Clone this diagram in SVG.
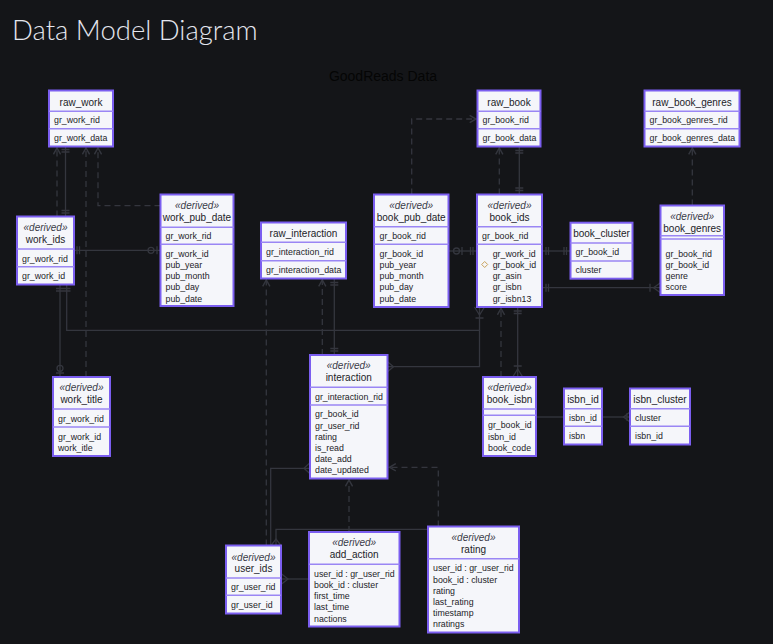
<svg xmlns="http://www.w3.org/2000/svg" width="773" height="644" viewBox="0 0 773 644">
<style>
.bg{fill:#141518}
.box{fill:#f5f6fa;stroke:#7b5ef0;stroke-width:2}
.div{stroke:#9a86f4;stroke-width:1.5}
.t{font-family:"Liberation Sans",Arial,sans-serif;font-size:10px;fill:#1c1c28;text-anchor:middle}
.st{font-family:"Liberation Sans",Arial,sans-serif;font-size:10px;font-style:italic;fill:#3a3a48;text-anchor:middle}
.a{font-family:"Liberation Sans",Arial,sans-serif;font-size:8.8px;fill:#1c1c28}
.c{fill:none;stroke:#34363e;stroke-width:1.3}
.d{fill:none;stroke:#34363e;stroke-width:1.3;stroke-dasharray:6 4;marker-end:url(#arr)}
.m{fill:none;stroke:#34363e;stroke-width:1.3}
</style>
<defs>
<marker id="arr" viewBox="0 0 10 10" refX="8" refY="5" markerWidth="9" markerHeight="9" markerUnits="userSpaceOnUse" orient="auto">
<path d="M1,1 L8,5 L1,9" fill="none" stroke="#34363e" stroke-width="1.6" stroke-dasharray="none"/>
</marker>
</defs>
<rect class="bg" x="0" y="0" width="773" height="644"/>
<text x="12" y="40" style="font-family:Lato,'Open Sans',sans-serif;font-weight:300;font-size:27.5px;fill:#e4e6ee">Data Model Diagram</text>
<text x="383" y="81" style="font-family:'Liberation Sans',Arial,sans-serif;font-size:14px;fill:#050505;text-anchor:middle">GoodReads Data</text>

<g id="connectors">
<path class="c" d="M65.5,146.5 V216.5"/>
<path class="m" d="M61.5,149.5 H69.5 M61.5,152 H69.5 M61.5,210.5 H69.5 M61.5,213 H69.5"/>
<path class="c" d="M74,250.3 H160.5"/>
<path class="m" d="M77,246.3 V254.3 M79.5,246.3 V254.3 M157,246.3 V254.3"/>
<circle class="m" cx="151" cy="250.3" r="3" fill="#141518"/>
<path class="c" d="M60,284.5 V377"/>
<path class="m" d="M56,288.5 H70.5 M56,291 H70.5 M56,373 H64"/>
<circle class="m" cx="60" cy="368.3" r="3" fill="#141518"/>
<path class="c" d="M66.7,284.5 V330.3 H479.5 V307"/>
<path class="m" d="M474.5,307 L479.5,315 L484.5,307 M475.5,318 H483.5"/>
<path class="c" d="M387.5,366.7 H479.5 V330.3"/>
<path class="m" d="M387.5,361.7 L393.5,366.7 L387.5,371.7"/>
<path class="c" d="M334.3,278.5 V355"/>
<path class="m" d="M330.3,282.5 H338.3 M330.3,285 H338.3 M330.3,348.5 H338.3 M330.3,351 H338.3"/>
<path class="c" d="M448.5,251 H477"/>
<path class="m" d="M462,247 V255 M470.5,247 V255 M473,247 V255"/>
<circle class="m" cx="456.5" cy="251" r="3" fill="#141518"/>
<path class="c" d="M542,251 H570.5"/>
<path class="m" d="M546,247 V255 M548.5,247 V255 M564,247 V255 M566.5,247 V255"/>
<path class="c" d="M542,287.7 H660.5"/>
<path class="m" d="M546,283.7 V291.7 M548.5,283.7 V291.7 M650,283.7 V291.7 M660.5,282.7 L653.5,287.7 L660.5,292.7"/>
<path class="c" d="M519.3,146.5 V194.5"/>
<path class="m" d="M515.3,150.5 H523.3 M515.3,153 H523.3 M515.3,188 H523.3 M515.3,190.5 H523.3"/>
<path class="c" d="M517.7,307 V377"/>
<path class="m" d="M513.7,311 H521.7 M513.7,313.5 H521.7 M513.7,366 H521.7 M512.7,377 L517.7,369 L522.7,377"/>
<path class="c" d="M536,417 H564"/>
<path class="c" d="M602,417 H630"/>
<path class="m" d="M627,413 V421 M630,412 L623.5,417 L630,422"/>
<path class="c" d="M310,468.3 H270.7 V545.5"/>
<path class="m" d="M310,462.8 L304,468.3 L310,473.8"/>
<path class="c" d="M276,545.5 V529.3 H428"/>
<path class="m" d="M271,545.5 L276,539 L281,545.5"/>
<path class="c" d="M281,579 H309"/>
<path class="m" d="M281,573.5 L288,579 L281,584.5"/>
<path class="d" d="M57,216.5 V148"/>
<path class="d" d="M86,377 V148"/>
<path class="d" d="M160.5,205.7 H98 V148"/>
<path class="d" d="M266.3,545.5 V280"/>
<path class="d" d="M322.3,355 V280"/>
<path class="d" d="M411.7,194.5 V119 H476"/>
<path class="d" d="M499.3,194.5 V148"/>
<path class="d" d="M501,377 V308.5"/>
<path class="d" d="M692.3,205.5 V148"/>
<path class="d" d="M349,532 V480"/>
<path class="d" d="M438.3,526.5 V467.3 H389.5"/>
</g>

<g id="raw_work">
<rect class="box" x="49" y="90.5" width="64" height="56"/>
<path class="div" d="M49,111.3 H113 M49,128.7 H113"/>
<text class="t" x="81" y="105.5">raw_work</text>
<text class="a" x="54" y="123">gr_work_rid</text>
<text class="a" x="54" y="141">gr_work_data</text>
</g>

<g id="work_ids">
<rect class="box" x="17" y="216.5" width="57" height="68"/>
<path class="div" d="M17,249 H74 M17,266.7 H74"/>
<text class="st" x="45.5" y="231">«derived»</text>
<text class="t" x="45.5" y="242.7">work_ids</text>
<text class="a" x="22" y="262">gr_work_rid</text>
<text class="a" x="22" y="279">gr_work_id</text>
</g>

<g id="work_pub_date">
<rect class="box" x="160.5" y="194.5" width="73" height="111.5"/>
<path class="div" d="M160.5,227.3 H233.5 M160.5,244.3 H233.5"/>
<text class="st" x="197" y="209">«derived»</text>
<text class="t" x="197" y="221">work_pub_date</text>
<text class="a" x="165.5" y="238.7">gr_work_rid</text>
<text class="a" x="165.5" y="256.7">gr_work_id</text>
<text class="a" x="165.5" y="268">pub_year</text>
<text class="a" x="165.5" y="279.3">pub_month</text>
<text class="a" x="165.5" y="290.3">pub_day</text>
<text class="a" x="165.5" y="301.5">pub_date</text>
</g>

<g id="raw_interaction">
<rect class="box" x="261" y="222.5" width="85" height="56"/>
<path class="div" d="M261,242.3 H346 M261,260.7 H346"/>
<text class="t" x="303.5" y="236.7">raw_interaction</text>
<text class="a" x="266" y="254.7">gr_interaction_rid</text>
<text class="a" x="266" y="273">gr_interaction_data</text>
</g>

<g id="raw_book">
<rect class="box" x="477.5" y="90.5" width="63" height="56"/>
<path class="div" d="M477.5,111.3 H540.5 M477.5,128.7 H540.5"/>
<text class="t" x="509" y="105.5">raw_book</text>
<text class="a" x="482.5" y="123">gr_book_rid</text>
<text class="a" x="482.5" y="141">gr_book_data</text>
</g>

<g id="book_pub_date">
<rect class="box" x="374" y="194.5" width="74.5" height="112.5"/>
<path class="div" d="M374,226.7 H448.5 M374,244.3 H448.5"/>
<text class="st" x="411.2" y="209.3">«derived»</text>
<text class="t" x="411.2" y="221">book_pub_date</text>
<text class="a" x="379.5" y="238.7">gr_book_rid</text>
<text class="a" x="379.5" y="256.7">gr_book_id</text>
<text class="a" x="379.5" y="268">pub_year</text>
<text class="a" x="379.5" y="279.3">pub_month</text>
<text class="a" x="379.5" y="290.3">pub_day</text>
<text class="a" x="379.5" y="301.5">pub_date</text>
</g>

<g id="book_ids">
<rect class="box" x="477" y="194.5" width="65" height="112.5"/>
<path class="div" d="M477,226.7 H542 M477,244.3 H542"/>
<text class="st" x="509.5" y="209.3">«derived»</text>
<text class="t" x="509.5" y="221">book_ids</text>
<text class="a" x="482" y="238.7">gr_book_rid</text>
<text class="a" x="492.7" y="256.7">gr_work_id</text>
<path d="M484.7,261.5 L487.7,264.5 L484.7,267.5 L481.7,264.5 Z" fill="none" stroke="#c9a25a" stroke-width="1"/>
<text class="a" x="492.7" y="267.7">gr_book_id</text>
<text class="a" x="492.7" y="279">gr_asin</text>
<text class="a" x="492.7" y="290">gr_isbn</text>
<text class="a" x="492.7" y="301.5">gr_isbn13</text>
</g>

<g id="raw_book_genres">
<rect class="box" x="644.5" y="90.5" width="95" height="56"/>
<path class="div" d="M644.5,111.3 H739.5 M644.5,128.7 H739.5"/>
<text class="t" x="692" y="105.5">raw_book_genres</text>
<text class="a" x="649.5" y="123">gr_book_genres_rid</text>
<text class="a" x="649.5" y="141">gr_book_genres_data</text>
</g>

<g id="book_cluster">
<rect class="box" x="570.5" y="222.7" width="62" height="56"/>
<path class="div" d="M570.5,243 H632.5 M570.5,261 H632.5"/>
<text class="t" x="601.5" y="237">book_cluster</text>
<text class="a" x="575.5" y="254.7">gr_book_id</text>
<text class="a" x="575.5" y="272.7">cluster</text>
</g>

<g id="book_genres">
<rect class="box" x="660.5" y="205.5" width="63.5" height="89.5"/>
<path class="div" d="M660.5,235.7 H724 M660.5,239 H724"/>
<text class="st" x="692.2" y="220">«derived»</text>
<text class="t" x="692.2" y="232">book_genres</text>
<text class="a" x="665.5" y="256.7">gr_book_rid</text>
<text class="a" x="665.5" y="267.7">gr_book_id</text>
<text class="a" x="665.5" y="278.7">genre</text>
<text class="a" x="665.5" y="290">score</text>
</g>

<g id="work_title">
<rect class="box" x="53" y="377" width="57" height="79"/>
<path class="div" d="M53,409 H110 M53,427 H110"/>
<text class="st" x="81.5" y="391.3">«derived»</text>
<text class="t" x="81.5" y="403">work_title</text>
<text class="a" x="58" y="421.7">gr_work_rid</text>
<text class="a" x="58" y="439.7">gr_work_id</text>
<text class="a" x="58" y="450.7">work_itle</text>
</g>

<g id="interaction">
<rect class="box" x="310" y="355" width="77.5" height="123.5"/>
<path class="div" d="M310,387.3 H387.5 M310,405 H387.5"/>
<text class="st" x="348.7" y="369.3">«derived»</text>
<text class="t" x="348.7" y="381">interaction</text>
<text class="a" x="315" y="399.7">gr_interaction_rid</text>
<text class="a" x="315" y="416.7">gr_book_id</text>
<text class="a" x="315" y="429">gr_user_rid</text>
<text class="a" x="315" y="440">rating</text>
<text class="a" x="315" y="451">is_read</text>
<text class="a" x="315" y="461.7">date_add</text>
<text class="a" x="315" y="473">date_updated</text>
</g>

<g id="book_isbn">
<rect class="box" x="483" y="377" width="53" height="79"/>
<path class="div" d="M483,409 H536 M483,415.3 H536"/>
<text class="st" x="509.5" y="391.3">«derived»</text>
<text class="t" x="509.5" y="403">book_isbn</text>
<text class="a" x="488" y="427.7">gr_book_id</text>
<text class="a" x="488" y="439.7">isbn_id</text>
<text class="a" x="488" y="450.7">book_code</text>
</g>

<g id="isbn_id">
<rect class="box" x="564" y="388.5" width="38" height="56"/>
<path class="div" d="M564,408.7 H602 M564,426.3 H602"/>
<text class="t" x="583" y="402.6">isbn_id</text>
<text class="a" x="569" y="420.7">isbn_id</text>
<text class="a" x="569" y="438.7">isbn</text>
</g>

<g id="isbn_cluster">
<rect class="box" x="630" y="388.5" width="60" height="56"/>
<path class="div" d="M630,408.7 H690 M630,426.3 H690"/>
<text class="t" x="660" y="402.6">isbn_cluster</text>
<text class="a" x="635" y="420.7">cluster</text>
<text class="a" x="635" y="438.7">isbn_id</text>
</g>

<g id="user_ids">
<rect class="box" x="226" y="545.5" width="55" height="68"/>
<path class="div" d="M226,578 H281 M226,595.3 H281"/>
<text class="st" x="253.5" y="560.6">«derived»</text>
<text class="t" x="253.5" y="572">user_ids</text>
<text class="a" x="231" y="590">gr_user_rid</text>
<text class="a" x="231" y="608">gr_user_id</text>
</g>

<g id="add_action">
<rect class="box" x="309" y="532" width="90.5" height="94.5"/>
<path class="div" d="M309,564.3 H399.5"/>
<text class="st" x="354.2" y="546">«derived»</text>
<text class="t" x="354.2" y="558.3">add_action</text>
<text class="a" x="314" y="576.7">user_id : gr_user_rid</text>
<text class="a" x="314" y="588">book_id : cluster</text>
<text class="a" x="314" y="599">first_time</text>
<text class="a" x="314" y="610">last_time</text>
<text class="a" x="314" y="621.7">nactions</text>
</g>

<g id="rating">
<rect class="box" x="428" y="526.5" width="91" height="106"/>
<path class="div" d="M428,558.7 H519"/>
<text class="st" x="473.5" y="541.3">«derived»</text>
<text class="t" x="473.5" y="553.3">rating</text>
<text class="a" x="433" y="570.7">user_id : gr_user_rid</text>
<text class="a" x="433" y="582.7">book_id : cluster</text>
<text class="a" x="433" y="594">rating</text>
<text class="a" x="433" y="605">last_rating</text>
<text class="a" x="433" y="616">timestamp</text>
<text class="a" x="433" y="627">nratings</text>
</g>
</svg>
